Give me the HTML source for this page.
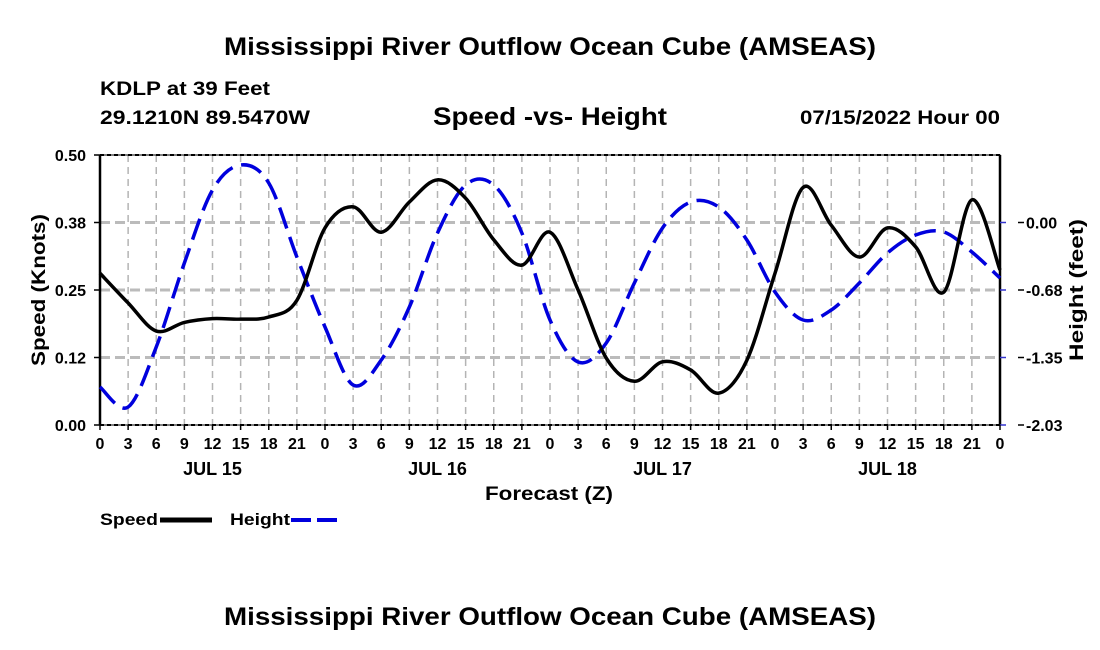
<!DOCTYPE html>
<html><head><meta charset="utf-8"><style>
body{margin:0;background:#fff;}
svg{display:block;font-family:"Liberation Sans",Arial,sans-serif;font-weight:bold;}
</style></head><body>
<svg id="chart" width="1100" height="650" viewBox="0 0 1100 650">
<text x="224" y="55" font-size="25" textLength="652" lengthAdjust="spacingAndGlyphs">Mississippi River Outflow Ocean Cube (AMSEAS)</text>
<text x="100" y="95" font-size="19" textLength="170" lengthAdjust="spacingAndGlyphs">KDLP at 39 Feet</text>
<text x="100" y="124" font-size="19" textLength="210" lengthAdjust="spacingAndGlyphs">29.1210N  89.5470W</text>
<text x="433" y="125" font-size="25" textLength="234" lengthAdjust="spacingAndGlyphs">Speed -vs- Height</text>
<text x="800" y="124" font-size="19" textLength="200" lengthAdjust="spacingAndGlyphs">07/15/2022 Hour 00</text>
<g id="grid"></g><g id="axes"></g><g id="series"></g>
<text x="485" y="500" font-size="19" textLength="128" lengthAdjust="spacingAndGlyphs">Forecast (Z)</text>
<text transform="translate(45,290) rotate(-90)" text-anchor="middle" font-size="19" textLength="152" lengthAdjust="spacingAndGlyphs">Speed (Knots)</text>
<text transform="translate(1083,290) rotate(-90)" text-anchor="middle" font-size="19" textLength="142" lengthAdjust="spacingAndGlyphs">Height (feet)</text>
<g>
<text x="100" y="525" font-size="17" textLength="58" lengthAdjust="spacingAndGlyphs">Speed</text>
<line x1="160" y1="520" x2="212" y2="520" stroke="#000" stroke-width="5"/>
<text x="230" y="525" font-size="17" textLength="60" lengthAdjust="spacingAndGlyphs">Height</text>
<line x1="291" y1="520" x2="343" y2="520" stroke="#0000dd" stroke-width="4" stroke-dasharray="20,6"/>
</g>
<text x="224" y="625" font-size="25" textLength="652" lengthAdjust="spacingAndGlyphs">Mississippi River Outflow Ocean Cube (AMSEAS)</text>
</svg>
<script>
const hours=[0,3,6,9,12,15,18,21,24,27,30,33,36,39,42,45,48,51,54,57,60,63,66,69,72,75,78,81,84,87,90,93,96];
const speed=[0.281,0.226,0.174,0.19,0.197,0.196,0.2,0.231,0.365,0.404,0.357,0.413,0.454,0.42,0.343,0.296,0.357,0.25,0.124,0.081,0.117,0.102,0.059,0.12,0.281,0.44,0.37,0.311,0.365,0.33,0.246,0.417,0.287];
const height=[-1.65,-1.85,-1.25,-0.41,0.32,0.57,0.39,-0.35,-1.05,-1.63,-1.38,-0.85,-0.11,0.37,0.37,-0.11,-0.98,-1.40,-1.21,-0.61,-0.06,0.20,0.15,-0.18,-0.70,-0.98,-0.88,-0.61,-0.31,-0.13,-0.10,-0.30,-0.56];
const speedTicks=["0.00","0.12","0.25","0.38","0.50"];
const heightTicks=["-2.03","-1.35","-0.68","0.00"];
const dayLabels=["JUL 15","JUL 16","JUL 17","JUL 18"];
const X0=100,X1=1000,Y0=425,Y1=155;
const xs=h=>X0+(X1-X0)*h/96;
const ys=v=>Y0-(Y0-Y1)*v/0.5;
const yh=v=>Y0-(Y0-Y1)*(v+2.03)/2.7;
const NS="http://www.w3.org/2000/svg";
function mk(p,tag,at){const e=document.createElementNS(NS,tag);for(const k in at)e.setAttribute(k,at[k]);p.appendChild(e);return e;}
const grid=document.getElementById('grid'),axes=document.getElementById('axes'),ser=document.getElementById('series');
for(let h=3;h<96;h+=3){const l=mk(grid,'line',{x1:xs(h),x2:xs(h),y1:Y1,y2:Y0,stroke:'#b4b4b4','stroke-width':1.5,'stroke-dasharray':'7,5'});

}
for(let i=1;i<4;i++){const y=Y0-(Y0-Y1)*i/4;const l=mk(grid,'line',{x1:X0,x2:X1,y1:y,y2:y,stroke:'#bbb','stroke-width':3,'stroke-dasharray':'10,5'});

}
const fr=mk(axes,'rect',{x:X0,y:Y1,width:X1-X0,height:Y0-Y1,fill:'none',stroke:'#000','stroke-width':1});


mk(axes,'line',{x1:X0,x2:X0,y1:Y1,y2:Y0,stroke:'#000','stroke-width':2.5});
mk(axes,'line',{x1:X1,x2:X1,y1:Y1,y2:Y0,stroke:'#000','stroke-width':2.5});
mk(axes,'line',{x1:X0,x2:X1,y1:Y1,y2:Y1,stroke:'#000','stroke-width':2,'stroke-dasharray':'4,3'});
mk(axes,'line',{x1:X0,x2:X1,y1:Y0,y2:Y0,stroke:'#000','stroke-width':2,'stroke-dasharray':'4,3'});
speedTicks.forEach((t,i)=>{const y=Y0-(Y0-Y1)*i/4;mk(axes,'line',{x1:X0-6,x2:X0,y1:y,y2:y,stroke:'#000','stroke-width':1.5});
const e=mk(axes,'text',{x:X0-14,y:y+6,'text-anchor':'end','font-size':16});e.textContent=t;

});
heightTicks.forEach((t,i)=>{const y=Y0-(Y0-Y1)*i/4;mk(axes,'line',{x1:X1,x2:X1+6,y1:y,y2:y,stroke:'#3333cc','stroke-width':1.5});
mk(axes,'line',{x1:X1+18,x2:X1+24,y1:y,y2:y,stroke:'#000','stroke-width':1.5});
const e=mk(axes,'text',{x:X1+26,y:y+6,'font-size':16});e.textContent=t;

});
for(let h=0;h<=96;h+=3){mk(axes,'line',{x1:xs(h),x2:xs(h),y1:Y0,y2:Y0+5,stroke:'#000','stroke-width':1.5});
const e=mk(axes,'text',{x:xs(h),y:Y0+24,'text-anchor':'middle','font-size':16});e.textContent=String(h%24);

}
dayLabels.forEach((d,i)=>{const e=mk(axes,'text',{x:xs(i*24+12),y:Y0+50,'text-anchor':'middle','font-size':18});e.textContent=d;

});
function path(vals,f){const p=hours.map((h,i)=>[xs(h),f(vals[i])]);let d='M'+p[0][0]+','+p[0][1];
for(let i=0;i<p.length-1;i++){const a=p[Math.max(0,i-1)],b=p[i],c=p[i+1],e=p[Math.min(p.length-1,i+2)];
d+=' C'+(b[0]+(c[0]-a[0])/6)+','+(b[1]+(c[1]-a[1])/6)+' '+(c[0]-(e[0]-b[0])/6)+','+(c[1]-(e[1]-b[1])/6)+' '+c[0]+','+c[1];}return d;}
const hp=mk(ser,'path',{d:path(height,yh),fill:'none',stroke:'#0000dd','stroke-width':3.5,'stroke-dasharray':'22,9'});


const sp=mk(ser,'path',{d:path(speed,ys),fill:'none',stroke:'#000','stroke-width':3.5});


</script>
</body></html>
